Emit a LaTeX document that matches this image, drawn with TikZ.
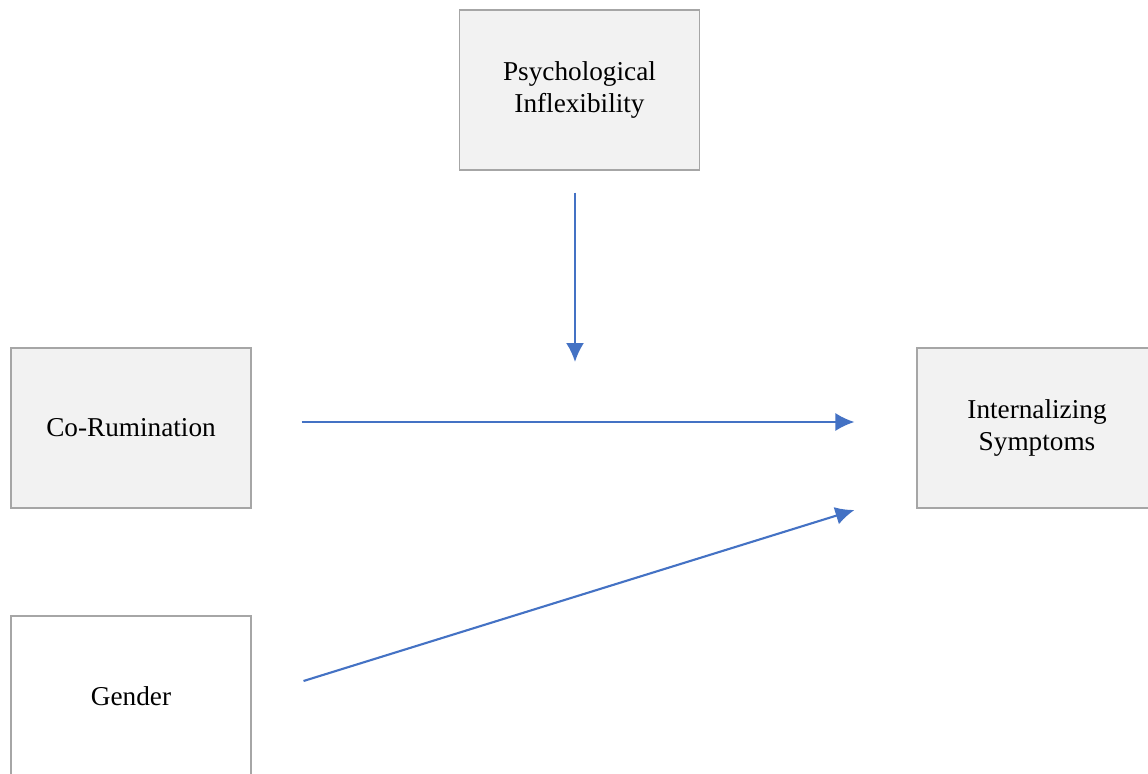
\documentclass[tikz,border=0pt]{standalone}
\usepackage{fontspec}
\setmainfont{Liberation Serif}
\usetikzlibrary{arrows.meta}
\definecolor{arrblue}{HTML}{4472C4}
\definecolor{boxline}{HTML}{A6A6A6}

\begin{document}
\begin{tikzpicture}[
    var/.style={draw=boxline, line width=0.6pt, fill=gray!10, align=center,
                minimum width=4.8cm, minimum height=3.2cm,
                font=\fontsize{15.5}{18.2}\selectfont},
    cov/.style={var, fill=white},
    pth/.style={-{Latex[length=0.38cm, width=0.36cm]}, arrblue, line width=1.2pt}
  ]
  \useasboundingbox (0, 0) rectangle (22.96, -15.48);
  \node[var] (psy) at (11.59, -1.80)  {Psychological\\Inflexibility};
  \node[var] (cor) at (2.62, -8.56)   {Co-Rumination};
  \node[var] (int) at (20.74, -8.56)  {Internalizing\\Symptoms};
  \node[cov] (gen) at (2.62, -13.92)  {Gender};
  \coordinate (mod) at (11.50, -7.24);

  \draw[pth] ([shift={(-0.09, -0.44)}]psy.south) -- (mod);
  \draw[pth] ([shift={(1.00, 0.12)}]cor.east) -- ([shift={(-1.24, 0.12)}]int.west);
  \draw[pth] ([shift={(1.04, 0.30)}]gen.east) -- ([shift={(-1.24, -1.64)}]int.west);
\end{tikzpicture}
\end{document}
